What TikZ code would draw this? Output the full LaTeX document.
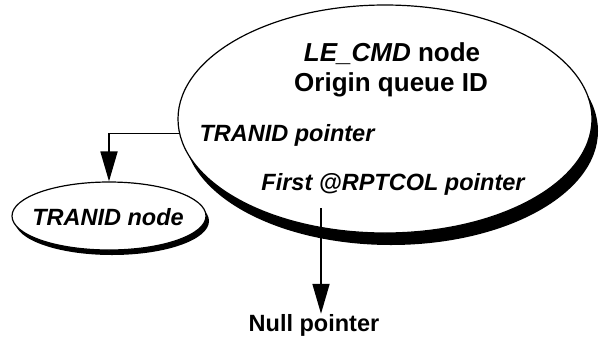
\documentclass[tikz,border=0pt]{standalone}
\usepackage{fontspec}
\setmainfont{Liberation Sans}
\usetikzlibrary{shapes.geometric,shadows,arrows.meta}
\begin{document}
\begin{tikzpicture}[x=1pt,y=-1pt,
  oval/.style={ellipse, draw=black, line width=1.2pt, fill=white, inner sep=0pt},
  bigtxt/.style={inner sep=0pt, anchor=base, font=\fontsize{26}{30}\selectfont\bfseries},
  smalltxt/.style={inner sep=0pt, anchor=base, font=\fontsize{23.5}{27}\selectfont\bfseries},
  conn/.style={line width=1.8pt, -{Triangle[length=30pt,width=17pt]}}]
\useasboundingbox (0,0) rectangle (601,338);

% LE_CMD node with its crescent shadow
\node[oval, minimum width=414pt, minimum height=228pt,
      drop shadow={shadow xshift=6pt, shadow yshift=-12pt, opacity=1, fill=black}]
  (le) at (385,119) {};
\node[bigtxt] (title) at (392,61) {\textit{LE\_CMD} node};
\node[bigtxt] (origin) at (391,91) {Origin queue ID};
\node[smalltxt] (tranptr) at (287,141.5) {\itshape TRANID pointer};
\node[smalltxt] (rptptr) at (393,190.5) {\itshape First @RPTCOL pointer};

% TRANID node
\node[oval, minimum width=194pt, minimum height=68pt,
      drop shadow={shadow xshift=3pt, shadow yshift=-5pt, opacity=1, fill=black}]
  (tn) at (109,216) {};
\node[smalltxt] (tntext) at (108,225) {\itshape TRANID node};

% Null pointer label
\node[smalltxt, anchor=base] (np) at (314,331) {Null pointer};
\coordinate (nullsrc) at (321,208);

% connectors
\draw[conn] (le.184.7) -| (tn.north);
\draw[conn] (nullsrc) -- (nullsrc |- np.north);
\end{tikzpicture}
\end{document}
